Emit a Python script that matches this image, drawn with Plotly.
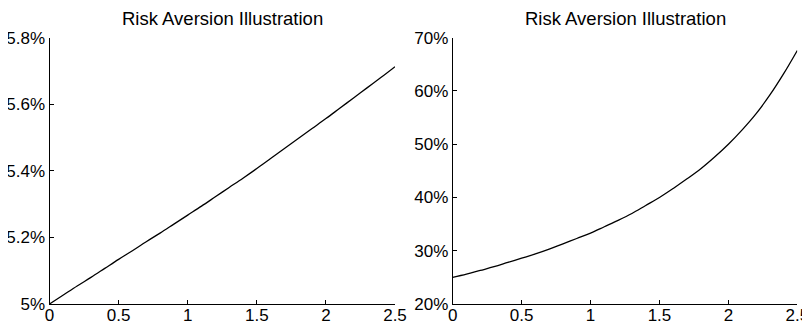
import plotly.graph_objects as go

# ---- data ----
x_vals = [0.0, 0.1, 0.2, 0.3, 0.4, 0.5, 0.6, 0.7, 0.8, 0.9, 1.0, 1.1, 1.2,
          1.3, 1.4, 1.5, 1.6, 1.7, 1.8, 1.9, 2.0, 2.1, 2.2, 2.3, 2.4, 2.5]

left_pct = [5.000, 5.027, 5.054, 5.080, 5.107, 5.134, 5.160, 5.187, 5.213,
            5.240, 5.267, 5.294, 5.322, 5.350, 5.378, 5.407, 5.437, 5.467,
            5.497, 5.527, 5.557, 5.588, 5.619, 5.650, 5.681, 5.713]

right_pct = [25.0, 25.6, 26.3, 27.0, 27.8, 28.6, 29.4, 30.3, 31.3, 32.3,
             33.3, 34.5, 35.7, 37.0, 38.5, 40.0, 41.7, 43.5, 45.4, 47.6,
             50.0, 52.7, 55.7, 59.2, 63.2, 67.6]

x_ticks = [0, 0.5, 1, 1.5, 2, 2.5]
x_tick_labels = ["0", "0.5", "1", "1.5", "2", "2.5"]
left_ticks = [5.0, 5.2, 5.4, 5.6, 5.8]
left_tick_labels = ["5%", "5.2%", "5.4%", "5.6%", "5.8%"]
right_ticks = [20, 30, 40, 50, 60, 70]
right_tick_labels = ["20%", "30%", "40%", "50%", "60%", "70%"]
title_text = "Risk Aversion Illustration"

# The page body has an 8px default margin, so the figure is drawn 8px in.
OFF = 8
W, H = 810 - OFF, 323 - OFF
FONT = "Liberation Sans, Arial, Helvetica, sans-serif"

fig = go.Figure()
fig.add_trace(go.Scatter(x=x_vals, y=left_pct, mode="lines",
                         line=dict(color="black", width=1.3, shape="spline"),
                         xaxis="x", yaxis="y", showlegend=False))
fig.add_trace(go.Scatter(x=x_vals, y=right_pct, mode="lines",
                         line=dict(color="black", width=1.3, shape="spline"),
                         xaxis="x2", yaxis="y2", showlegend=False))

def px_x(p):
    return (p - OFF) / W

def px_y(p):
    return 1 - (p - OFF) / H

ydom = [px_y(304), px_y(37.7)]
xdom1 = [px_x(49.5), px_x(395)]
xdom2 = [px_x(452.7), px_x(797.3)]

axis_common = dict(showline=True, linecolor="black", linewidth=1,
                   ticks="inside", ticklen=4, tickcolor="black", tickwidth=1,
                   showgrid=False, zeroline=False, mirror=False,
                   automargin=False,
                   tickfont=dict(family=FONT, size=17, color="black"))
x_extra = dict(ticklabelstandoff=-4)

fig.update_layout(
    width=W, height=H,
    margin=dict(l=0, r=0, t=0, b=0),
    paper_bgcolor="white", plot_bgcolor="white",
    xaxis=dict(domain=xdom1, range=[0, 2.5], tickvals=x_ticks,
               ticktext=x_tick_labels, anchor="y", **axis_common, **x_extra),
    yaxis=dict(domain=ydom, range=[5.0, 5.8], tickvals=left_ticks,
               ticktext=left_tick_labels, anchor="x", **axis_common),
    xaxis2=dict(domain=xdom2, range=[0, 2.5], tickvals=x_ticks,
                ticktext=x_tick_labels, anchor="y2", **axis_common, **x_extra),
    yaxis2=dict(domain=ydom, range=[20, 70], tickvals=right_ticks,
                ticktext=right_tick_labels, anchor="x2", **axis_common),
    annotations=[
        dict(text=title_text, xref="paper", yref="paper",
             x=(xdom1[0] + xdom1[1]) / 2, y=px_y(19.0),
             xanchor="center", yanchor="middle", showarrow=False,
             font=dict(family=FONT, size=18.5, color="black")),
        dict(text=title_text, xref="paper", yref="paper",
             x=(xdom2[0] + xdom2[1]) / 2, y=px_y(19.0),
             xanchor="center", yanchor="middle", showarrow=False,
             font=dict(family=FONT, size=18.5, color="black")),
    ],
)

fig.write_html("out.html")
